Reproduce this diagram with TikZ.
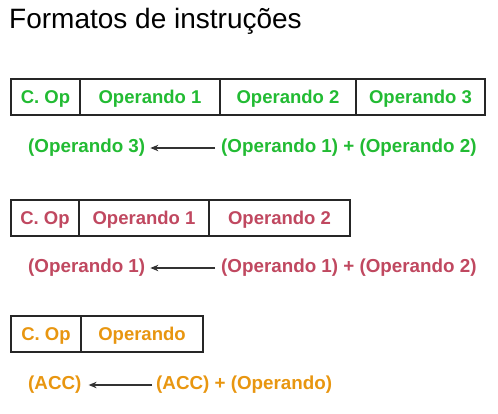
\documentclass[tikz,border=0pt]{standalone}
\usepackage{fontspec}
\setmainfont{Liberation Sans}
\usetikzlibrary{arrows.meta, positioning}
\definecolor{verdeop}{RGB}{34,187,51}
\definecolor{rosaop}{RGB}{192,72,96}
\definecolor{laranjaop}{RGB}{232,150,16}

\tikzset{
  campo/.style={draw=black!85, line width=1.1pt, minimum height=36pt,
                inner sep=0pt, outer sep=0pt, text height=13.3pt,
                text depth=0pt,
                font=\fontsize{18.5}{20}\selectfont\bfseries},
  expr/.style={inner sep=0pt, anchor=west,
               font=\fontsize{18.8}{20}\selectfont\bfseries},
  seta/.style={-{Stealth[length=8pt,width=6.5pt]}, line width=1.1pt,
               draw=black!80},
}

\begin{document}
\begin{tikzpicture}[x=1pt, y=-1pt]
    \useasboundingbox (0,0) rectangle (498,413);
    % titulo
    \node[anchor=base west, inner sep=0pt, font=\fontsize{28}{30}\selectfont]
         (titulo) at (9,28) {Formatos de instruções};
    % tres enderecos
    \node[campo, text=verdeop, anchor=west, minimum width=69pt]
         (copA) at (11,97) {C. Op};
    \node[campo, text=verdeop, minimum width=140pt, right=0pt of copA]
         (opA1) {Operando 1};
    \node[campo, text=verdeop, minimum width=136pt, right=0pt of opA1]
         (opA2) {Operando 2};
    \node[campo, text=verdeop, minimum width=129pt, right=0pt of opA2]
         (opA3) {Operando 3};
    \node[expr, text=verdeop] (dstA) at (28,148) {(Operando 3)};
    \node[expr, text=verdeop] (srcA) at (221,148)
         {(Operando 1) + (Operando 2)};
    \draw[seta, shorten <=6pt, shorten >=5pt] (srcA) -- (dstA);
    % dois enderecos
    \node[campo, text=rosaop, anchor=west, minimum width=68pt]
         (copB) at (11,218) {C. Op};
    \node[campo, text=rosaop, minimum width=130pt, right=0pt of copB]
         (opB1) {Operando 1};
    \node[campo, text=rosaop, minimum width=141pt, right=0pt of opB1]
         (opB2) {Operando 2};
    \node[expr, text=rosaop] (dstB) at (28,268) {(Operando 1)};
    \node[expr, text=rosaop] (srcB) at (221,268)
         {(Operando 1) + (Operando 2)};
    \draw[seta, shorten <=6pt, shorten >=5pt] (srcB) -- (dstB);
    % um endereco (acumulador)
    \node[campo, text=laranjaop, anchor=west, minimum width=70pt]
         (copC) at (11,334) {C. Op};
    \node[campo, text=laranjaop, minimum width=122pt, right=0pt of copC]
         (opC1) {Operando};
    \node[expr, text=laranjaop] (dstC) at (28,385) {(ACC)};
    \node[expr, text=laranjaop] (srcC) at (156,385) {(ACC) + (Operando)};
    \draw[seta, shorten <=4pt, shorten >=7pt] (srcC) -- (dstC);
\end{tikzpicture}
\end{document}
